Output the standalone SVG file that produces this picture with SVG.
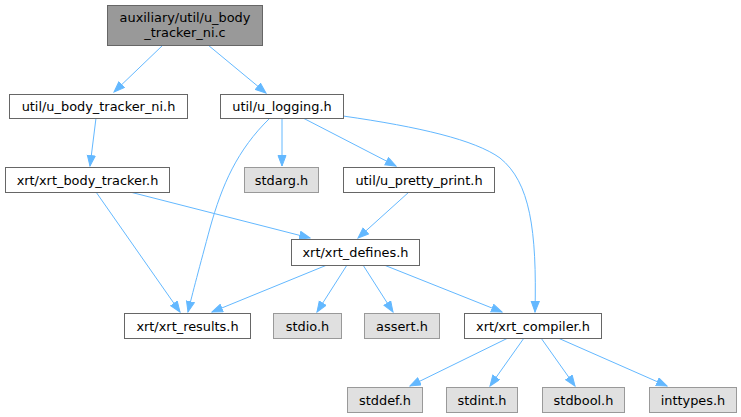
<svg xmlns="http://www.w3.org/2000/svg" width="741" height="417" viewBox="0 0 741 417">
<style>
.n rect{fill:#fff;stroke:#666;stroke-width:1}
.g rect{fill:#e0e0e0;stroke:#999;stroke-width:1}
.r rect{fill:#999;stroke:#666;stroke-width:1}
text{font-family:"DejaVu Sans",sans-serif;font-size:12.9px;text-anchor:middle;fill:#000}
.e path{fill:none;stroke:#63b8ff;stroke-width:1;marker-end:url(#a)}
</style>
<defs>
<marker id="a" markerUnits="userSpaceOnUse" markerWidth="12" markerHeight="10" refX="11" refY="4.5" orient="auto">
<path d="M0.5,0.5 L11,4.5 L0.5,8.5 z" fill="#63b8ff" stroke="#63b8ff" stroke-width="1"/>
</marker>
</defs>
<g class="e" id="edges">
<path d="M163,45 L114,92"/>
<path d="M208,45 L266,93"/>
<path d="M96,118 L90,166"/>
<path d="M270,118 C237,150 222,185 210,228 C200,265 192,295 188,312"/>
<path d="M282,118 L282,166"/>
<path d="M303,118 L396,166"/>
<path d="M343,116 C420,127 475,140 500,158 C530,182 537,230 535,312"/>
<path d="M409,192 L358,238"/>
<path d="M96,192 L180,312"/>
<path d="M130,192 L310,238"/>
<path d="M327,265 L212,312"/>
<path d="M347,265 L317,312"/>
<path d="M363,265 L393,312"/>
<path d="M384,265 L502,312"/>
<path d="M508,338 L410,386"/>
<path d="M524,338 L490,386"/>
<path d="M541,338 L575,386"/>
<path d="M558,338 L667,386"/>
</g>
<g id="root" class="r"><rect x="107.5" y="5.5" width="155" height="40"/><text x="185" y="21.5">auxiliary/util/u_body</text><text x="185" y="36.5">_tracker_ni.c</text></g>
<g id="u_body_tracker_ni_h" class="n"><rect x="9.5" y="94.5" width="178" height="24"/><text x="98.5" y="111">util/u_body_tracker_ni.h</text></g>
<g id="u_logging_h" class="n"><rect x="220.5" y="94.5" width="123" height="24"/><text x="282" y="111">util/u_logging.h</text></g>
<g id="xrt_body_tracker_h" class="n"><rect x="5.5" y="167.5" width="164" height="25"/><text x="87.5" y="184.5">xrt/xrt_body_tracker.h</text></g>
<g id="stdarg_h" class="g"><rect x="244.5" y="167.5" width="74" height="25"/><text x="281.5" y="184.5">stdarg.h</text></g>
<g id="u_pretty_print_h" class="n"><rect x="343.5" y="167.5" width="151" height="25"/><text x="419" y="184.5">util/u_pretty_print.h</text></g>
<g id="xrt_defines_h" class="n"><rect x="291.5" y="239.5" width="128" height="26"/><text x="355.5" y="257">xrt/xrt_defines.h</text></g>
<g id="xrt_results_h" class="n"><rect x="124.5" y="313.5" width="126" height="25"/><text x="187.5" y="330.5">xrt/xrt_results.h</text></g>
<g id="stdio_h" class="g"><rect x="273.5" y="313.5" width="68" height="25"/><text x="307.5" y="330.5">stdio.h</text></g>
<g id="assert_h" class="g"><rect x="364.5" y="313.5" width="75" height="25"/><text x="402" y="330.5">assert.h</text></g>
<g id="xrt_compiler_h" class="n"><rect x="464.5" y="313.5" width="137" height="25"/><text x="533" y="330.5">xrt/xrt_compiler.h</text></g>
<g id="stddef_h" class="g"><rect x="347.5" y="387.5" width="75" height="25"/><text x="385" y="404.5">stddef.h</text></g>
<g id="stdint_h" class="g"><rect x="446.5" y="387.5" width="71" height="25"/><text x="482" y="404.5">stdint.h</text></g>
<g id="stdbool_h" class="g"><rect x="542.5" y="387.5" width="82" height="25"/><text x="583.5" y="404.5">stdbool.h</text></g>
<g id="inttypes_h" class="g"><rect x="649.5" y="387.5" width="87" height="25"/><text x="693" y="404.5">inttypes.h</text></g>
</svg>
